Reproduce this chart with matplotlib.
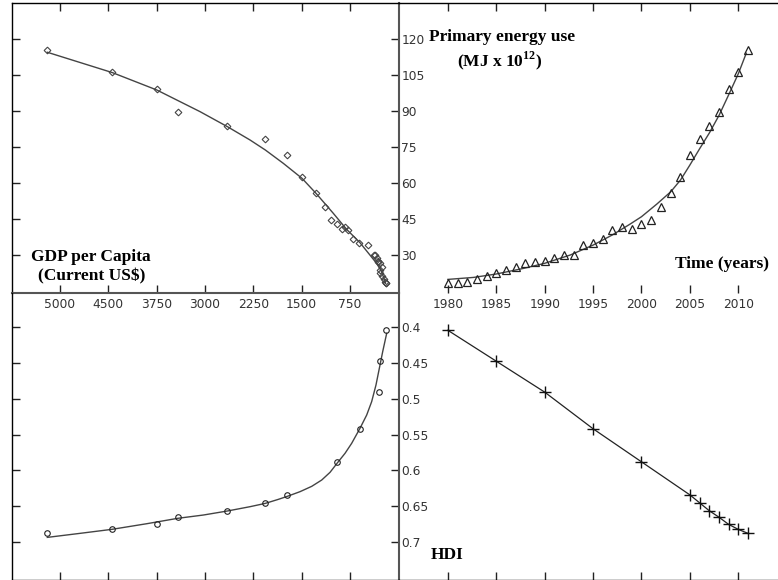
import matplotlib
matplotlib.use("Agg")
import matplotlib.pyplot as plt

# ---------------- data ----------------
years = [1980, 1981, 1982, 1983, 1984, 1985, 1986, 1987, 1988, 1989, 1990,
         1991, 1992, 1993, 1994, 1995, 1996, 1997, 1998, 1999, 2000, 2001,
         2002, 2003, 2004, 2005, 2006, 2007, 2008, 2009, 2010, 2011]
energy = [18.2, 18.2, 18.9, 20.1, 21.4, 22.4, 23.8, 25.1, 26.7, 27.0, 27.4,
          28.9, 30.1, 30.0, 34.2, 35.0, 36.8, 40.4, 41.7, 40.9, 42.9, 44.6,
          50.2, 56.0, 62.6, 71.7, 78.4, 83.8, 89.7, 99.4, 106.5, 115.7]
gdp = [197, 197, 203, 225, 250, 294, 282, 252, 284, 311, 318,
       333, 366, 377, 473, 610, 709, 782, 829, 873, 959, 1044,
       1133, 1277, 1494, 1722, 2063, 2651, 3420, 3745, 4434, 5441]

hdi_years = [1980, 1985, 1990, 1995, 2000, 2005, 2006, 2007, 2008, 2009, 2010, 2011]
hdi = [0.405, 0.448, 0.491, 0.542, 0.588, 0.634, 0.645, 0.656, 0.665, 0.675, 0.682, 0.6875]
hdi_gdp = [198, 291, 307, 597, 953, 1723, 2064, 2653, 3421, 3747, 4440, 5442]

# fitted trend curves
fit_time = [1980.0, 1982.65, 1984.96, 1987.81, 1989.98, 1992.63, 1995.01, 1996.97,
            1998.83, 2000.0, 2001.59, 2003.03, 2004.03, 2005.0, 2006.03, 2007.03,
            2008.03, 2009.03, 2010.02, 2010.82]
fit_time_energy = [19.86, 20.69, 22.08, 24.45, 26.54, 30.01, 34.18, 38.35,
                   42.94, 46.0, 51.29, 56.43, 61.3, 67.56, 74.51, 81.05,
                   88.42, 97.04, 105.8, 114.15]

fit_gdp_e = [5442, 4434, 3747, 3489, 3076, 2652, 2301, 2064, 1785, 1495, 1278,
             1010, 803, 597, 442, 338, 261, 199]
fit_gdp_energy = [114.56, 106.08, 98.85, 95.37, 89.81, 83.55, 77.99, 73.82, 68.25,
                  62.0, 55.74, 47.4, 40.7, 35.16, 30.0, 26.5, 23.06, 18.2]

fit_gdp_h = [5442, 4935, 4440, 3902, 3422, 3024, 2652, 2301, 2064, 1862, 1723,
             1526, 1345, 1190, 1061, 953, 829, 726, 597, 493, 416, 349, 297, 245, 183]
fit_gdp_hdi = [0.6931, 0.6875, 0.6819, 0.6741, 0.6666, 0.6620, 0.6564, 0.6504,
               0.6458, 0.6402, 0.6360, 0.6295, 0.6221, 0.6133, 0.6026, 0.5901,
               0.5762, 0.5623, 0.5414, 0.5229, 0.5043, 0.4811, 0.4579, 0.4347, 0.4092]

gdp_ticks = [750, 1500, 2250, 3000, 3750, 4500, 5250]
gdp_ticklabels = ["750", "1500", "2250", "3000", "3750", "4500", "5000"]
year_ticks = [1980, 1985, 1990, 1995, 2000, 2005, 2010]
energy_ticks = [30, 45, 60, 75, 90, 105, 120]
hdi_ticks = [0.4, 0.45, 0.5, 0.55, 0.6, 0.65, 0.7]
hdi_ticklabels = ["0.4", "0.45", "0.5", "0.55", "0.6", "0.65", "0.7"]

# ---------------- layout ----------------
plt.rcParams['mathtext.fontset'] = 'custom'
plt.rcParams['mathtext.rm'] = 'Liberation Serif'
plt.rcParams['mathtext.bf'] = 'Liberation Serif:bold'
plt.rcParams['lines.solid_joinstyle'] = 'round'

W, H = 778, 580
fig = plt.figure(figsize=(W / 100, H / 100), dpi=100)

xl, xm, xr = 11.5 / W, 398.5 / W, 1.0
yt, ym, yb = 1 - 3 / H, 1 - 292.5 / H, 1 - 579.5 / H

GDP_LIM = (5997, 0)
YEAR_LIM = (1974.9, 2014.1)
E_LIM = (14.4, 135.1)
HDI_LIM = (0.7517, 0.3524)

ax_tl = fig.add_axes([xl, ym, xm - xl, yt - ym])
ax_tr = fig.add_axes([xm, ym, xr - xm, yt - ym])
ax_bl = fig.add_axes([xl, yb, xm - xl, ym - yb])
ax_br = fig.add_axes([xm, yb, xr - xm, ym - yb])

for ax in (ax_tl, ax_tr, ax_bl, ax_br):
    ax.patch.set_visible(False)
    for s in ax.spines.values():
        s.set_visible(False)

border = dict(color='black', lw=1.0)
center = dict(color='#555555', lw=1.5)
tick_col = '#222222'
lab_col = '#333333'
tfs = 8.8
curve_col = '#444444'

# top-left : GDP vs energy
ax_tl.set_xlim(*GDP_LIM)
ax_tl.set_ylim(*E_LIM)
ax_tl.spines['left'].set_visible(True); ax_tl.spines['left'].set(**border)
ax_tl.spines['top'].set_visible(True); ax_tl.spines['top'].set(**border)
ax_tl.spines['right'].set_visible(True); ax_tl.spines['right'].set(**center)
ax_tl.spines['bottom'].set_visible(True); ax_tl.spines['bottom'].set(**center)
ax_tl.set_xticks(gdp_ticks)
ax_tl.set_xticklabels(gdp_ticklabels)
ax_tl.set_yticks(energy_ticks)
ax_tl.tick_params(axis='x', direction='in', length=6, width=1, color=tick_col,
                  top=True, bottom=True, labelbottom=True, labeltop=False,
                  labelsize=tfs, labelcolor=lab_col, pad=4)
ax_tl.tick_params(axis='y', direction='in', length=6, width=1, color=tick_col,
                  left=True, right=True, labelleft=False, labelright=True,
                  labelsize=tfs, labelcolor=lab_col, pad=2)
ax_tl.plot(fit_gdp_e, fit_gdp_energy, color=curve_col, lw=1.0, zorder=2)
ax_tl.plot(gdp, energy, linestyle='none', marker='D', markersize=3.4,
           mfc='none', mec='#444444', mew=0.8, zorder=3)

# top-right : time vs energy
ax_tr.set_xlim(*YEAR_LIM)
ax_tr.set_ylim(*E_LIM)
ax_tr.spines['top'].set_visible(True); ax_tr.spines['top'].set(**border)
ax_tr.set_xticks(year_ticks)
ax_tr.set_yticks([])
ax_tr.tick_params(axis='x', direction='in', length=6, width=1, color=tick_col,
                  top=True, bottom=True, labelbottom=True, labeltop=False,
                  labelsize=tfs, labelcolor=lab_col, pad=4)
ax_tr.plot(fit_time, fit_time_energy, color=curve_col, lw=1.0, zorder=2)
ax_tr.plot(years, energy, linestyle='none', marker='^', markersize=6,
           mfc='none', mec='#222222', mew=0.9, zorder=3)

# bottom-left : GDP vs HDI
ax_bl.set_xlim(*GDP_LIM)
ax_bl.set_ylim(*HDI_LIM)
ax_bl.spines['left'].set_visible(True); ax_bl.spines['left'].set(**border)
ax_bl.spines['bottom'].set_visible(True); ax_bl.spines['bottom'].set(**border)
ax_bl.spines['right'].set_visible(True); ax_bl.spines['right'].set(**center)
ax_bl.set_xticks(gdp_ticks)
ax_bl.set_yticks(hdi_ticks)
ax_bl.set_yticklabels(hdi_ticklabels)
ax_bl.tick_params(axis='x', direction='in', length=6, width=1, color=tick_col,
                  top=False, bottom=True, labelbottom=False)
ax_bl.tick_params(axis='y', direction='in', length=6, width=1, color=tick_col,
                  left=True, right=True, labelleft=False, labelright=True,
                  labelsize=tfs, labelcolor=lab_col, pad=2)
ax_bl.plot(fit_gdp_h, fit_gdp_hdi, color=curve_col, lw=1.0, zorder=2)
ax_bl.plot(hdi_gdp, hdi, linestyle='none', marker='o', markersize=4,
           mfc='none', mec='#222222', mew=0.8, zorder=3)

# bottom-right : time vs HDI
ax_br.set_xlim(*YEAR_LIM)
ax_br.set_ylim(*HDI_LIM)
ax_br.spines['bottom'].set_visible(True); ax_br.spines['bottom'].set(**border)
ax_br.set_xticks(year_ticks)
ax_br.set_yticks([])
ax_br.tick_params(axis='x', direction='in', length=6, width=1, color=tick_col,
                  top=False, bottom=True, labelbottom=False)
ax_br.plot(hdi_years, hdi, color='#222222', lw=0.9, zorder=2)
ax_br.plot(hdi_years, hdi, linestyle='none', marker='+', markersize=8,
           mec='#111111', mew=1.0, zorder=3)

# ---------------- titles ----------------
serif = dict(family='Liberation Serif', weight='bold', color='black', fontsize=12.5)

def px(x, y):
    return x / W, 1 - y / H

fig.text(*px(91, 257), "GDP per Capita", ha='center', va='center', **serif)
fig.text(*px(92, 276), "(Current US$)", ha='center', va='center', **serif)
fig.text(*px(502, 37), "Primary energy use", ha='center', va='center', **serif)
fig.text(*px(500, 61), r"(MJ x 10$^{\mathbf{12}}$)", ha='center', va='center', **serif)
fig.text(*px(722, 264), "Time (years)", ha='center', va='center', **serif)
fig.text(*px(447, 555), "HDI", ha='center', va='center', **serif)

fig.savefig("out.png", dpi=100)
